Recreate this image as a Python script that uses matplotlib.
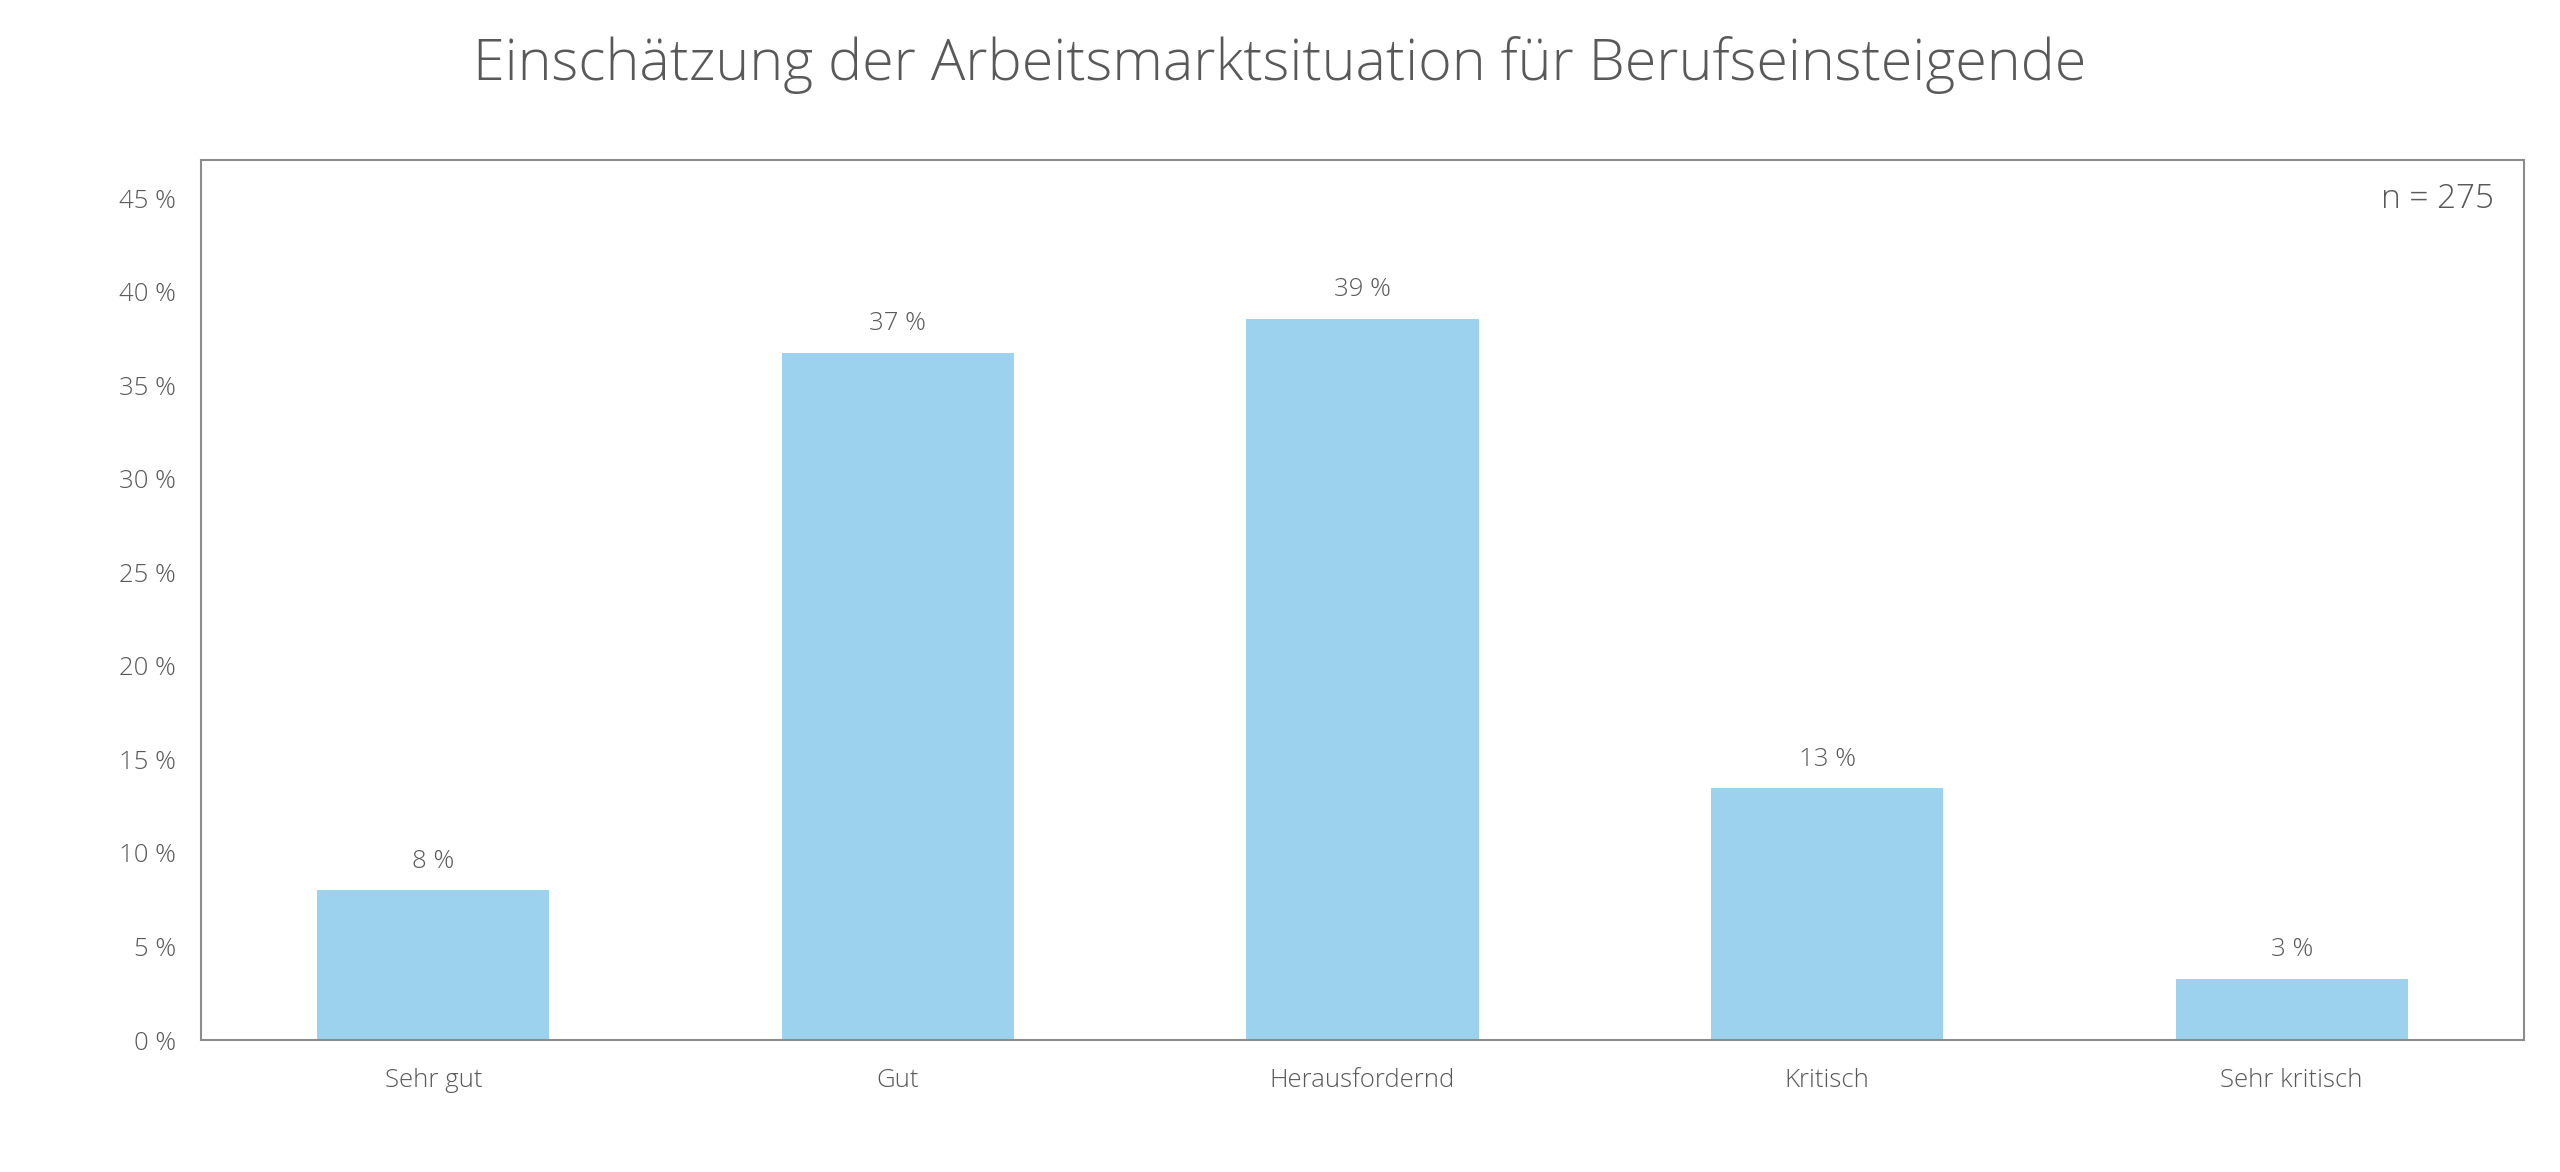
import matplotlib
matplotlib.use("Agg")
import matplotlib.pyplot as plt
from matplotlib.ticker import FuncFormatter, MultipleLocator

categories = ["Sehr gut", "Gut", "Herausfordernd", "Kritisch", "Sehr kritisch"]
counts = [22, 101, 106, 37, 9]
n_total = 275
values = [c / n_total * 100 for c in counts]
labels = ["8 %", "37 %", "39 %", "13 %", "3 %"]
title = "Einschätzung der Arbeitsmarktsituation für Berufseinsteigende"

plt.rcParams['font.family'] = ['Open Sans', 'DejaVu Sans']
text_col = "#595959"
bar_col = "#9DD2EF"
spine_col = "#8C8C8C"

W, H = 2560, 1172
fig = plt.figure(figsize=(W / 100, H / 100), dpi=100)
left, right, top, bottom = 201, 2524, 160, 1040
ax = fig.add_axes([left / W, 1 - bottom / H, (right - left) / W, (bottom - top) / H])

x = range(len(categories))
ax.bar(x, values, width=0.5, color=bar_col)
ax.set_xlim(-0.5, len(categories) - 0.5)
ax.set_ylim(0, 47.05)
ax.yaxis.set_major_locator(MultipleLocator(5))
ax.yaxis.set_major_formatter(FuncFormatter(lambda v, p: f"{int(round(v))} %"))
ax.set_xticks(list(x))
ax.set_xticklabels(categories)
ax.tick_params(axis='both', length=0, labelsize=18.5, labelcolor=text_col)
ax.tick_params(axis='y', pad=18)
ax.tick_params(axis='x', pad=20)
for lab in ax.get_xticklabels() + ax.get_yticklabels():
    lab.set_fontweight('light')
for s in ax.spines.values():
    s.set_color(spine_col)
    s.set_linewidth(1.5)

for xi, v, lab in zip(x, values, labels):
    ax.annotate(lab, (xi, v), xytext=(0, 12), textcoords='offset points',
                ha='center', va='bottom', fontsize=18.5, color=text_col, fontweight='light')

ax.text(0.987, 0.955, f"n = {n_total}", transform=ax.transAxes, ha='right', va='center',
        fontsize=24, color=text_col, fontweight='light')

fig.text(0.5, 1 - 65 / H, title, ha='center', va='center', fontsize=41.3,
         color=text_col, fontweight='light')

fig.savefig("out.png", dpi=100, facecolor='white')
